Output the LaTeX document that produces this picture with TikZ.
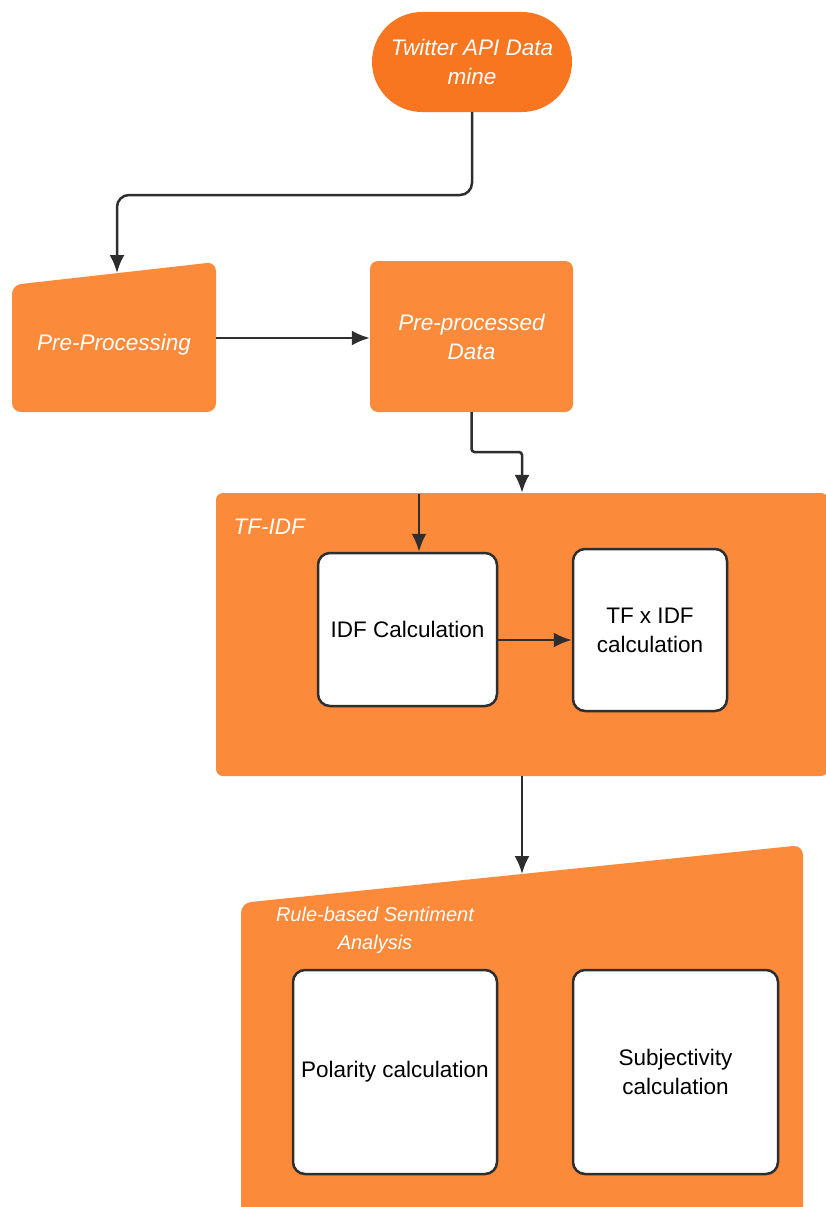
\documentclass[tikz,border=0pt]{standalone}
\usepackage{fontspec}
\setmainfont{Liberation Sans}
\usetikzlibrary{arrows.meta}
\definecolor{orfill}{HTML}{FC8A3B}
\definecolor{termfill}{HTML}{F8761F}
\definecolor{edge}{HTML}{2E2E2E}
\tikzset{
  lbl/.style={text=white, font=\fontsize{22.5}{29}\selectfont\itshape, align=center},
  term/.style={fill=termfill, rounded corners=50pt, minimum width=200pt, minimum height=100pt, lbl},
  orbox/.style={fill=orfill, rounded corners=8pt, lbl},
  whitebox/.style={draw=edge, line width=2.5pt, fill=white, rounded corners=12pt, align=center, text=black, font=\fontsize{22.5}{29}\selectfont},
  conn/.style={draw=edge, line width=2.5pt, -{Latex[length=18pt,width=15pt]}},
}
\begin{document}
\begin{tikzpicture}[x=1pt,y=-1pt]
\useasboundingbox (0,0) rectangle (826,1207);
\begin{scope}
\clip (0,0) rectangle (826,1207);
% Pre-Processing manual input shape
\fill[orfill, rounded corners=9pt] (12,285) -- (216,262) -- (216,412) -- (12,412) -- cycle;
% Rule-based manual input shape
\fill[orfill, rounded corners=10pt] (241,903) -- (803,845) -- (803,1230) -- (241,1230) -- cycle;
\end{scope}

\node[term] (tw) at (472,62) {Twitter API Data\\mine};
\node[lbl] (pp) at (114,345) {Pre-Processing};
\coordinate (pptop) at (117,273);
\coordinate (ppR) at (216,338);
\node[orbox, minimum width=203pt, minimum height=151pt] (ppd) at (471.5,336.5) {Pre-processed\\Data};

\node[fill=orfill, rounded corners=7pt, minimum width=612pt, minimum height=283pt] (tfidf) at (522,634.5) {};
\node[lbl, anchor=west] (tflabel) at (230,527) {TF-IDF};
\coordinate (idfin) at (419,494);

\node[whitebox, minimum width=179pt, minimum height=153pt] (idf) at (407.5,629.5) {IDF Calculation};
\node[whitebox, minimum width=154pt, minimum height=162pt] (tfx) at (650,630) {TF x IDF\\calculation};

\coordinate (rtop) at (522,874);
\node[lbl, font=\fontsize{20}{28}\selectfont\itshape] (rlabel) at (375,930) {Rule-based Sentiment\\Analysis};
\node[whitebox, minimum width=204pt, minimum height=204pt] (pol) at (395,1072) {Polarity calculation};
\node[whitebox, minimum width=205pt, minimum height=204pt] (subj) at (675.5,1072) {Subjectivity\\calculation};

% connectors
\draw[conn, rounded corners=12pt] (tw.south) -- (472,195) -- (117,195) -- (pptop);
\draw[conn] (ppR) -- (ppR -| ppd.west);
\draw[conn, rounded corners=3pt] (ppd.south) -- (471.5,452) -- (522,452) -- (tfidf.north);
\draw[conn] (idfin) -- (idfin |- idf.north);
\draw[conn] (idf.east |- 0,640) -- (tfx.west |- 0,640);
\draw[conn] (tfidf.south) -- (rtop);
\end{tikzpicture}
\end{document}
